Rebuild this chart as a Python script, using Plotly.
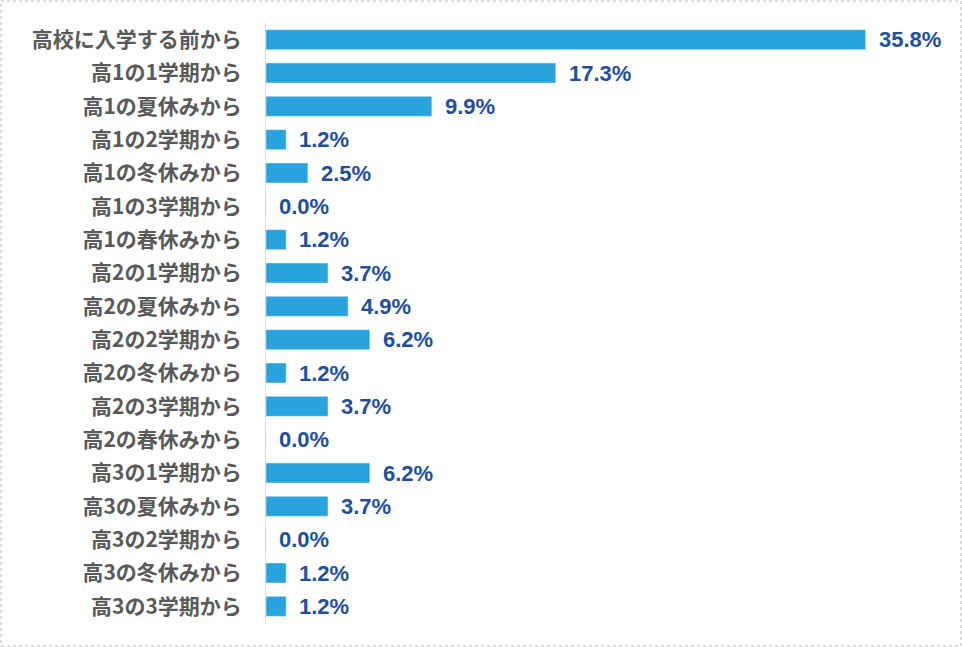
import plotly.graph_objects as go

# categories, top to bottom
categories = ["高校に入学する前から", "高1の1学期から", "高1の夏休みから", "高1の2学期から",
              "高1の冬休みから", "高1の3学期から", "高1の春休みから", "高2の1学期から",
              "高2の夏休みから", "高2の2学期から", "高2の冬休みから", "高2の3学期から",
              "高2の春休みから", "高3の1学期から", "高3の夏休みから", "高3の2学期から",
              "高3の冬休みから", "高3の3学期から"]
values = [35.8, 17.3, 9.9, 1.2, 2.5, 0.0, 1.2, 3.7, 4.9, 6.2, 1.2, 3.7, 0.0, 6.2, 3.7, 0.0, 1.2, 1.2]

W, H = 962, 647
ml, mr, mt, mb = 266, 16, 23, 24

fig = go.Figure()
fig.add_trace(go.Bar(
    x=values, y=categories, orientation="h",
    marker_color="#29A3DD", width=0.6,
    hoverinfo="x+y",
))

# value labels to the right of each bar
for c, v in zip(categories, values):
    fig.add_annotation(x=v, y=c, text="%.1f%%" % v, showarrow=False,
                       xanchor="left", xshift=11,
                       font=dict(family="Liberation Sans, Arial", size=22, color="#1F4E9E",
                                 weight="bold"))

# light border around the whole picture
pw, ph = W - ml - mr, H - mt - mb
fig.add_shape(type="rect", xref="paper", yref="paper",
              x0=(1 - ml) / pw, x1=(W - 1 - ml) / pw,
              y0=-(mb - 1) / ph, y1=(H - 1 - mb) / ph,
              line=dict(color="#D0D0D0", width=1.5, dash="dot"))

fig.update_layout(
    width=W, height=H,
    margin=dict(l=ml, r=mr, t=mt, b=mb),
    plot_bgcolor="white", paper_bgcolor="white",
    showlegend=False,
    font=dict(family="Noto Sans CJK JP", color="#595959"),
    xaxis=dict(range=[0, 40.6], visible=False, fixedrange=True),
    yaxis=dict(autorange="reversed", showline=True, linecolor="#D9D9D9", linewidth=1,
               ticks="", ticklabelstandoff=19,
               tickfont=dict(family="Noto Sans CJK JP", size=21, color="#595959", weight="bold")),
)

fig.write_html("out.html", config={"displayModeBar": False},
               post_script="document.body.style.margin='0';")
